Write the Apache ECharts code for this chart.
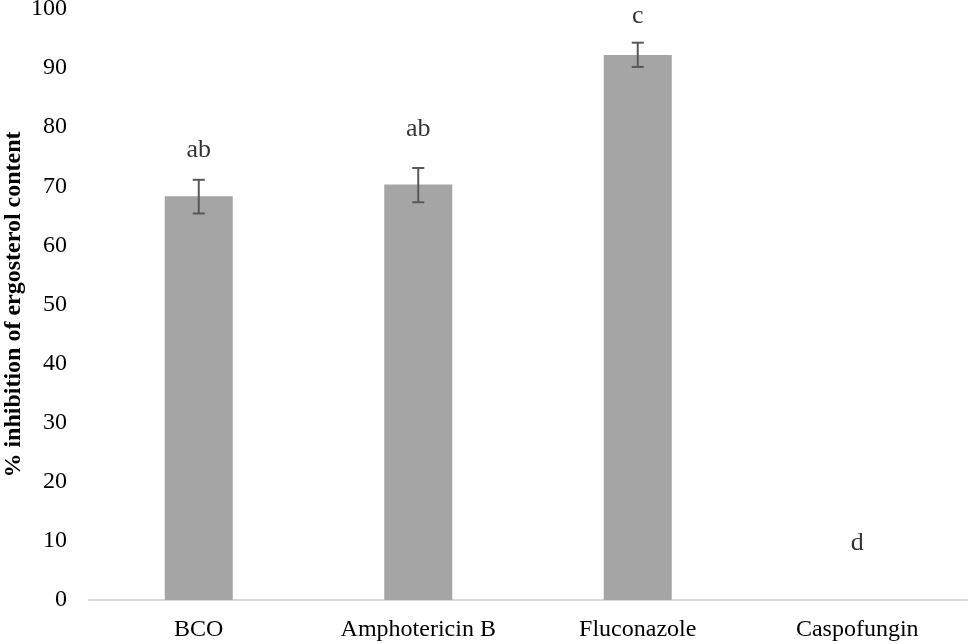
<!DOCTYPE html>
<html>
<head>
<meta charset="utf-8">
<title>ergosterol</title>
<script src="https://cdn.jsdelivr.net/npm/echarts@6/dist/echarts.min.js"></script>
<style>
  html, body { margin: 0; padding: 0; background: #fff; }
  #main { width: 970px; height: 644px; }
</style>
</head>
<body>
<div id="main"></div>
<script>
// data
var categories = ['BCO', 'Amphotericin B', 'Fluconazole', 'Caspofungin'];
var inhibition = [68.3, 70.3, 92.2, 0];
var errLow = [65.4, 67.3, 90.2, 0];
var errHigh = [71.1, 73.1, 94.3, 0];
var letters = ['ab', 'ab', 'c', 'd'];
var letterPos = [76.1, 79.7, 98.8, 9.6];
var yTicks = [0, 10, 20, 30, 40, 50, 60, 70, 80, 90, 100];

var chart = echarts.init(document.getElementById('main'));

var font = '"Liberation Serif", "Times New Roman", serif';

var errData = [];
for (var i = 0; i < categories.length; i++) {
  if (inhibition[i] > 0) errData.push([i, errLow[i], errHigh[i]]);
}

var letterData = letters.map(function (l, i) { return [i, letterPos[i], l]; });

chart.setOption({
  animation: false,
  grid: { left: 89, right: 3, top: 9, bottom: 44, outerBoundsMode: 'none', containLabel: false },
  xAxis: {
    type: 'category',
    data: categories,
    axisLine: { lineStyle: { color: '#d9d9d9', width: 2 } },
    axisTick: { show: false },
    axisLabel: { color: '#000', fontFamily: font, fontSize: 24, margin: 18 }
  },
  yAxis: {
    type: 'value',
    min: yTicks[0],
    max: yTicks[yTicks.length - 1],
    interval: 10,
    splitLine: { show: false },
    axisLine: { show: false },
    axisTick: { show: false },
    axisLabel: { color: '#000', fontFamily: font, fontSize: 24, margin: 22 },
    name: '% inhibition of ergosterol content',
    nameLocation: 'middle',
    nameGap: 63,
    nameMoveOverlap: false,
    nameTextStyle: { color: '#000', fontFamily: font, fontSize: 24, fontWeight: 'bold' }
  },
  series: [
    {
      type: 'bar',
      data: inhibition,
      barWidth: 68,
      itemStyle: { color: '#a5a5a5' }
    },
    {
      type: 'custom',
      data: errData,
      z: 5,
      renderItem: function (params, api) {
        var lo = api.coord([api.value(0), api.value(1)]);
        var hi = api.coord([api.value(0), api.value(2)]);
        var w = 6;
        var st = { stroke: '#595959', lineWidth: 2 };
        return {
          type: 'group',
          children: [
            { type: 'line', shape: { x1: lo[0], y1: lo[1], x2: hi[0], y2: hi[1] }, style: st },
            { type: 'line', shape: { x1: lo[0] - w, y1: lo[1], x2: lo[0] + w, y2: lo[1] }, style: st },
            { type: 'line', shape: { x1: hi[0] - w, y1: hi[1], x2: hi[0] + w, y2: hi[1] }, style: st }
          ]
        };
      }
    },
    {
      type: 'scatter',
      data: letterData,
      symbolSize: 0,
      label: {
        show: true,
        position: 'inside',
        formatter: function (p) { return p.value[2]; },
        color: '#000',
        fontFamily: font,
        fontSize: 26
      }
    }
  ]
});
</script>
</body>
</html>
